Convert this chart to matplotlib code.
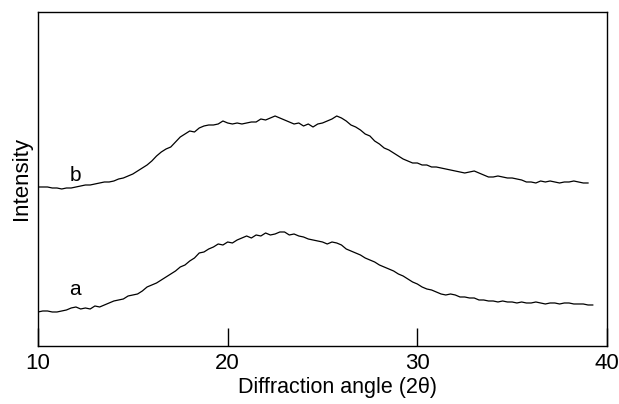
import numpy as np
import matplotlib.pyplot as plt

plt.rcParams['font.family'] = ['Liberation Sans', 'DejaVu Sans']

# ---------------- DATA ----------------
# diffraction angle (2theta), 0.25 deg steps
angle_a = np.arange(10.0, 39.5, 0.25)
angle_b = np.arange(10.0, 39.25, 0.25)

# curve a (lower trace), arbitrary units
int_a = [34, 35, 35, 34, 34, 35, 36, 38, 39, 37, 38, 37, 40, 39, 41, 43,
         45, 46, 47, 50, 51, 52, 55, 59, 61, 63, 66, 69, 72, 75, 79, 81,
         85, 88, 93, 94, 97, 99, 102, 101, 104, 103, 106, 108, 110, 108, 111, 110,
         113, 111, 112, 114, 114, 111, 112, 110, 109, 107, 106, 105, 104, 102, 104, 103,
         101, 97, 95, 93, 91, 88, 86, 84, 81, 79, 77, 75, 72, 70, 67, 64,
         62, 59, 57, 56, 54, 52, 51, 52, 51, 49, 49, 48, 48, 46, 46, 45,
         45, 44, 45, 44, 44, 43, 44, 43, 43, 44, 43, 42, 43, 43, 42, 43,
         43, 42, 42, 42, 41, 41]

# curve b (upper trace), arbitrary units
int_b = [159, 159, 159, 158, 158, 157, 158, 158, 159, 160, 161, 161, 162, 163, 164, 164,
         165, 167, 168, 170, 172, 175, 178, 181, 185, 190, 194, 197, 199, 204, 209, 212,
         215, 214, 218, 220, 221, 221, 222, 225, 223, 222, 223, 222, 223, 224, 224, 227,
         226, 228, 230, 228, 226, 224, 222, 223, 220, 222, 219, 222, 223, 225, 227, 230,
         228, 225, 221, 219, 216, 212, 210, 205, 202, 198, 196, 193, 190, 187, 185, 183,
         183, 181, 181, 179, 179, 178, 177, 176, 175, 174, 173, 174, 175, 173, 171, 169,
         169, 170, 169, 168, 168, 167, 166, 164, 164, 163, 165, 164, 165, 164, 163, 164,
         164, 165, 164, 163, 163]

x_ticks = [10, 20, 30, 40]

# ---------------- PLOT ----------------
fig = plt.figure(figsize=(6.19, 4.04), dpi=100)
ax = fig.add_axes([0.0614, 0.1436, 0.9192, 0.8267])

ax.plot(angle_a, int_a[:len(angle_a)], color='black', lw=0.9)
ax.plot(angle_b, int_b[:len(angle_b)], color='black', lw=0.9)

ax.text(11.95, 56, 'a', fontsize=15, ha='center', va='center')
ax.text(11.95, 170, 'b', fontsize=15, ha='center', va='center')

ax.set_xlim(10, 40)
ax.set_ylim(0, 334)
ax.set_xticks(x_ticks)
ax.set_yticks([])
ax.tick_params(axis='x', direction='in', length=13, width=1, labelsize=16, pad=5)
for s in ax.spines.values():
    s.set_linewidth(1.0)

ax.set_xlabel('Diffraction angle (2θ)', fontsize=15.5, labelpad=2)
ax.xaxis.label.set_x(0.527)  # label sits a bit right of centre in the original
ax.set_ylabel('Intensity', fontsize=16, labelpad=4)

fig.savefig('out.png', dpi=100)
